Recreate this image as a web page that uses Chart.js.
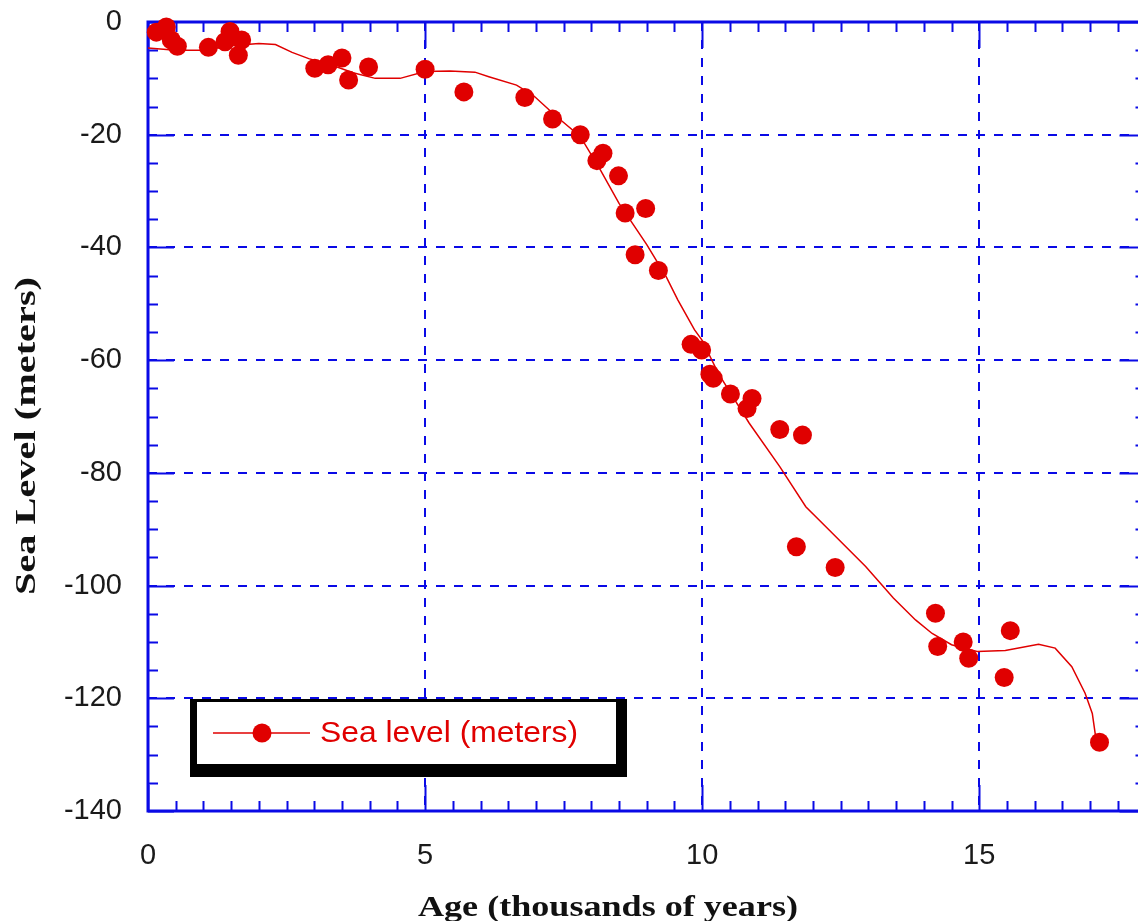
<!DOCTYPE html>
<html>
<head>
<meta charset="utf-8">
<title>Sea level</title>
<script src="https://cdn.jsdelivr.net/npm/chart.js@4.4.0/dist/chart.umd.min.js"></script>
<style>
  html, body { margin: 0; padding: 0; background: #fff; overflow: hidden; }
  canvas { display: block; }
</style>
</head>
<body>
<canvas id="seaLevel" width="1155" height="921"></canvas>
<script>
// measured samples: age (ka) and sea level (m)
const ages = [0.15, 0.33, 0.42, 0.53, 1.09, 1.39, 1.48, 1.63, 1.69, 3.01, 3.25, 3.50, 3.62, 3.98,
  5.0, 5.70, 6.80, 7.30, 7.80, 8.10, 8.21, 8.49, 8.61, 8.79, 8.98, 9.21, 9.80, 9.99, 10.14, 10.20,
  10.51, 10.81, 10.90, 11.40, 11.70, 11.81, 12.40, 14.21, 14.25, 14.71, 14.81, 15.45, 15.56, 17.17];
const levels = [-1.8, -0.9, -3.2, -4.3, -4.5, -3.5, -1.7, -5.9, -3.2, -8.2, -7.6, -6.4, -10.3, -8.0,
  -8.4, -12.4, -13.4, -17.2, -20.0, -24.6, -23.3, -27.3, -33.9, -41.3, -33.1, -44.1, -57.2, -58.2, -62.5, -63.2,
  -66.0, -68.6, -66.8, -72.3, -93.1, -73.3, -96.8, -104.9, -110.8, -110.0, -112.9, -116.3, -108.0, -127.8];

// smoothed curve through the samples
const curveAges = [0, 0.5, 1.0, 1.5, 2.0, 2.3, 2.6, 2.9, 3.3, 3.7, 4.1, 4.55, 5.0, 5.45, 5.9, 6.15,
  6.65, 6.95, 7.35, 7.8, 8.15, 8.5, 9.0, 9.35, 9.56, 9.86, 10.0, 10.3, 10.85, 11.4, 11.87, 12.35,
  12.95, 13.45, 13.85, 14.15, 14.5, 14.96, 15.47, 16.07, 16.37, 16.67, 16.91, 17.04, 17.1];
const curveLevels = [-4.6, -5.0, -5.0, -4.2, -3.8, -4.0, -5.4, -6.5, -7.6, -9.0, -10.0, -10.0, -8.8, -8.7, -8.9, -9.7,
  -11.2, -13.0, -16.6, -20.3, -26.0, -32.2, -39.5, -45.2, -49.3, -54.6, -56.5, -62.5, -71.2, -78.9, -86.0, -90.7,
  -96.6, -102.2, -106.1, -108.5, -110.5, -111.7, -111.5, -110.4, -111.1, -114.4, -119.1, -122.7, -126.8];

const xTicks = [0, 5, 10, 15];
const yTicks = [0, -20, -40, -60, -80, -100, -120, -140];

const seriesLabel = 'Sea level (meters)';
const xTitle = 'Age (thousands of years)';
const yTitle = 'Sea Level (meters)';

const BLUE = '#0a0ae6';
const RED = '#e00000';
const tickFont = { family: 'Liberation Sans, Arial, sans-serif', size: 29 };

// draws a string squeezed/stretched to a given width
function fitText(ctx, text, x, y, width) {
  const w = ctx.measureText(text).width;
  ctx.save();
  ctx.translate(x, y);
  ctx.scale(width / w, 1);
  ctx.fillText(text, 0, 0);
  ctx.restore();
}

// blue frame with inward ticks on all four sides
const frameTicks = {
  id: 'frameTicks',
  beforeDatasetsDraw(chart) {
    const { ctx, chartArea: { left, top, right, bottom }, scales: { x, y } } = chart;
    ctx.save();
    ctx.strokeStyle = BLUE;
    ctx.lineWidth = 2;
    ctx.beginPath();
    for (let v = 0; v <= 18; v += 0.5) {
      const px = Math.round(x.getPixelForValue(v)) + 0.5;
      const len = v % 5 === 0 ? 26 : 10;
      ctx.moveTo(px, bottom); ctx.lineTo(px, bottom - len);
      ctx.moveTo(px, top); ctx.lineTo(px, top + len);
    }
    for (let v = 0; v >= -140; v -= 5) {
      const py = Math.round(y.getPixelForValue(v)) + 0.5;
      const len = v % 20 === 0 ? 26 : 10;
      ctx.moveTo(left, py); ctx.lineTo(left + len, py);
      ctx.moveTo(right, py); ctx.lineTo(right - len, py);
    }
    ctx.stroke();
    ctx.lineWidth = 3;
    ctx.strokeRect(left, top, right - left, bottom - top);
    ctx.restore();
  },
  afterDraw(chart) {
    const { ctx } = chart;
    ctx.save();
    // axis titles
    ctx.fillStyle = '#111';
    ctx.font = 'bold 29px "Liberation Serif", "Times New Roman", serif';
    ctx.textAlign = 'left';
    ctx.textBaseline = 'alphabetic';
    fitText(ctx, xTitle, 418, 916, 380);
    ctx.save();
    ctx.translate(35, 595);
    ctx.rotate(-Math.PI / 2);
    fitText(ctx, yTitle, 0, 0, 318);
    ctx.restore();

    // legend box with drop shadow
    ctx.fillStyle = '#000';
    ctx.fillRect(190, 699, 437, 78);
    ctx.fillStyle = '#fff';
    ctx.fillRect(197, 702, 419, 62);
    ctx.strokeStyle = RED;
    ctx.lineWidth = 1.5;
    ctx.beginPath();
    ctx.moveTo(213, 733); ctx.lineTo(310, 733);
    ctx.stroke();
    ctx.fillStyle = RED;
    ctx.beginPath();
    ctx.arc(262, 733, 9.5, 0, Math.PI * 2);
    ctx.fill();
    ctx.font = '30px "Liberation Sans", Arial, sans-serif';
    ctx.textBaseline = 'middle';
    fitText(ctx, seriesLabel, 320, 734, 258);
    ctx.restore();
  }
};

new Chart(document.getElementById('seaLevel'), {
  type: 'scatter',
  data: {
    datasets: [
      {
        label: seriesLabel,
        data: ages.map((a, i) => ({ x: a, y: levels[i] })),
        pointRadius: 9.5,
        pointBackgroundColor: RED,
        pointBorderWidth: 0,
        showLine: false,
        clip: false
      },
      {
        label: 'fit',
        data: curveAges.map((a, i) => ({ x: a, y: curveLevels[i] })),
        showLine: true,
        pointRadius: 0,
        borderColor: RED,
        borderWidth: 1.5,
        tension: 0
      }
    ]
  },
  options: {
    responsive: false,
    animation: false,
    events: [],
    layout: { padding: { top: 22, right: 0, left: 0, bottom: 0 } },
    plugins: { legend: { display: false }, tooltip: { enabled: false } },
    scales: {
      x: {
        type: 'linear',
        min: 0,
        max: 18,
        afterBuildTicks: (s) => { s.ticks = xTicks.map(v => ({ value: v })); },
        afterFit: (s) => { s.height = 110; s.paddingLeft = 0; s.paddingRight = 0; },
        ticks: { font: tickFont, color: '#1a1a1a', padding: 28, maxRotation: 0 },
        grid: { color: BLUE, lineWidth: 2, drawTicks: false },
        border: { display: false, dash: [9, 9] }
      },
      y: {
        type: 'linear',
        min: -140,
        max: 0,
        afterBuildTicks: (s) => { s.ticks = yTicks.map(v => ({ value: v })); },
        afterFit: (s) => { s.width = 148; s.paddingTop = 0; s.paddingBottom = 0; },
        ticks: { font: tickFont, color: '#1a1a1a', padding: 26 },
        grid: { color: BLUE, lineWidth: 2, drawTicks: false },
        border: { display: false, dash: [9, 9] }
      }
    }
  },
  plugins: [frameTicks]
});
</script>
</body>
</html>
